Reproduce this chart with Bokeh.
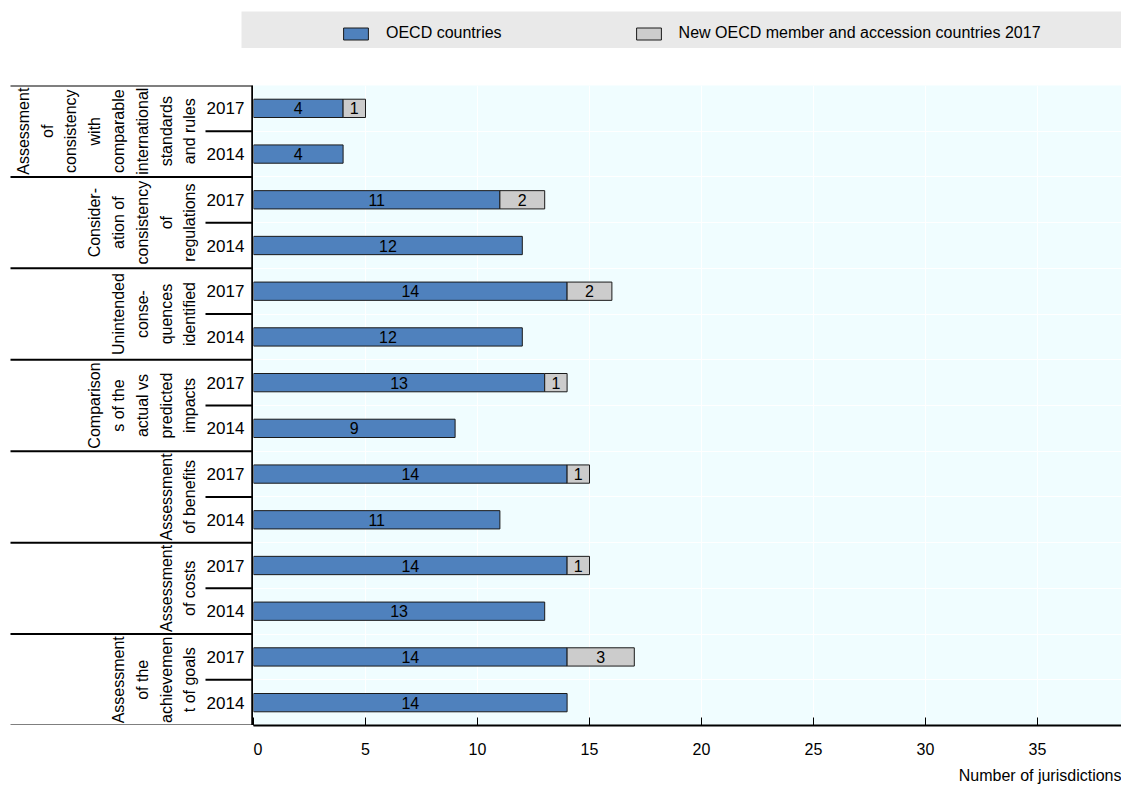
import numpy as np
from bokeh.plotting import figure
from bokeh.models import (ColumnDataSource, Range1d, FixedTicker, Title, Legend,
                          LegendItem, Spacer)
from bokeh.layouts import column, row
from bokeh.embed import file_html
from bokeh.resources import INLINE
from bokeh.core.properties import value

# ---------------- data (top group first) ----------------
groups = [
    "Assessment\nof\nconsistency\nwith\ncomparable\ninternational\nstandards\nand rules",
    "Consider-\nation of\nconsistency\nof\nregulations",
    "Unintended\nconse-\nquences\nidentified",
    "Comparison\ns of the\nactual vs\npredicted\nimpacts",
    "Assessment\nof benefits",
    "Assessment\nof costs",
    "Assessment\nof the\nachievemen\nt of goals",
]
years = ["2017", "2014"]
oecd_2017 = [4, 11, 14, 13, 14, 14, 14]
new_2017 = [1, 2, 2, 1, 1, 1, 3]
oecd_2014 = [4, 12, 12, 9, 11, 13, 14]
new_2014 = [0, 0, 0, 0, 0, 0, 0]
x_ticks = [0, 5, 10, 15, 20, 25, 30, 35]
series_names = ["OECD countries", "New OECD member and accession countries 2017"]
x_title = "Number of jurisdictions"

FONT = "Liberation Sans"
FS = "16px"
BLUE = "#4f81bd"
GREY = "#cccccc"
BG = "#f0fdff"

n_groups = len(groups)
n_rows = n_groups * 2

# ---------------- build row table ----------------
ys, oecd, new, yr_lbl = [], [], [], []
for g in range(n_groups):
    top = n_rows - 2 * g
    for k, (o, nw) in enumerate([(oecd_2017[g], new_2017[g]), (oecd_2014[g], new_2014[g])]):
        ys.append(top - 0.5 - k)
        oecd.append(o)
        new.append(nw)
        yr_lbl.append(years[k])

oecd = np.array(oecd, dtype=float)
new = np.array(new, dtype=float)
ys = np.array(ys, dtype=float)

src_o = ColumnDataSource(dict(y=ys, right=oecd, mid=oecd / 2, lbl=[str(int(v)) for v in oecd]))
mask = new > 0
src_n = ColumnDataSource(dict(y=ys[mask], left=oecd[mask], right=(oecd + new)[mask],
                              mid=(oecd + new / 2)[mask], lbl=[str(int(v)) for v in new[mask]]))

y_range = Range1d(0, n_rows)
FRAME_H = 640

# ---------------- main chart ----------------
p = figure(frame_width=868, frame_height=FRAME_H, x_range=Range1d(0, 38.75), y_range=y_range,
           output_backend="svg", toolbar_location=None, y_axis_location=None,
           min_border_left=0, min_border_right=0, min_border_top=0, min_border_bottom=0,
           background_fill_color=BG, outline_line_color=None)
p.xgrid.ticker = FixedTicker(ticks=x_ticks)
p.xgrid.grid_line_color = "white"
p.xgrid.grid_line_width = 1
p.ygrid.ticker = FixedTicker(ticks=list(range(n_rows + 1)))
p.ygrid.grid_line_color = "white"
p.ygrid.grid_line_width = 1

ax = p.xaxis[0]
ax.ticker = FixedTicker(ticks=x_ticks)
ax.major_tick_in = 8
ax.major_tick_out = 0
ax.minor_tick_line_color = None
ax.axis_line_width = 2
ax.axis_line_color = "black"
ax.major_tick_line_color = "black"
ax.major_tick_line_width = 1
ax.major_label_text_font = FONT
ax.major_label_text_font_size = FS
ax.major_label_text_color = "black"
ax.major_label_standoff = 17

p.add_layout(Title(text=x_title, align="right", text_font=FONT, text_font_size=FS,
                   text_font_style="normal", text_color="black", standoff=14), "below")

p.hbar(y="y", left=0, right="right", height=0.4, source=src_o,
       fill_color=BLUE, line_color="#1a1a1a", line_width=1)
p.hbar(y="y", left="left", right="right", height=0.4, source=src_n,
       fill_color=GREY, line_color="#1a1a1a", line_width=1)
for s in (src_o, src_n):
    p.text(x="mid", y="y", text="lbl", source=s, text_align="center", text_baseline="middle",
           text_font=value(FONT), text_font_size=FS, text_color="black")

# ---------------- left label panel ----------------
LEFT_W = 253
lf = figure(frame_width=LEFT_W, frame_height=FRAME_H, x_range=Range1d(0, LEFT_W), y_range=y_range,
            output_backend="svg", toolbar_location=None, x_axis_location=None,
            y_axis_location=None, min_border_left=0, min_border_right=0, min_border_top=0,
            min_border_bottom=0, outline_line_color=None, background_fill_color="white")
lf.xgrid.grid_line_color = None
lf.ygrid.grid_line_color = None

gb = [float(2 * g) for g in range(n_groups + 1)]
lf.segment(x0=[10] * len(gb), y0=gb, x1=[LEFT_W] * len(gb), y1=gb, line_color="black", line_width=2)
sb = [float(2 * g + 1) for g in range(n_groups)]
lf.segment(x0=[205] * len(sb), y0=sb, x1=[LEFT_W] * len(sb), y1=sb, line_color="black", line_width=2)
lf.segment(x0=[LEFT_W - 1], y0=[0], x1=[LEFT_W - 1], y1=[n_rows], line_color="black", line_width=2.5)

lf.text(x=[225] * len(ys), y=list(ys), text=yr_lbl, text_align="center", text_baseline="middle",
        text_font=value(FONT), text_font_size="17px", text_color="black")

gc = [n_rows - 2 * g - 1.0 for g in range(n_groups)]
lf.text(x=[198] * n_groups, y=gc, text=groups, angle=np.pi / 2, text_align="center",
        text_baseline="bottom", text_font=value(FONT), text_font_size=FS,
        text_color="black", text_line_height=1.4)

# ---------------- legend strip ----------------
lg = figure(width=880, height=37, x_range=Range1d(0, 1), y_range=Range1d(0, 1),
            output_backend="svg", toolbar_location=None, x_axis_location=None,
            y_axis_location=None, min_border=0, background_fill_color="#e9e9e9",
            border_fill_color="#e9e9e9", outline_line_color=None)
lg.xgrid.grid_line_color = None
lg.ygrid.grid_line_color = None
r1 = lg.hbar(y=[-5], left=[0], right=[1], height=0.5, fill_color=BLUE, line_color="#1a1a1a")
r2 = lg.hbar(y=[-5], left=[0], right=[1], height=0.5, fill_color=GREY, line_color="#1a1a1a")
legend = Legend(items=[LegendItem(label=series_names[0], renderers=[r1]),
                       LegendItem(label=series_names[1], renderers=[r2])],
                orientation="horizontal", location=(99, 6), glyph_width=31, glyph_height=15,
                label_standoff=15, spacing=131, padding=0, margin=0,
                background_fill_alpha=0, border_line_alpha=0,
                label_text_font=FONT, label_text_font_size=FS, label_text_color="black")
lg.add_layout(legend, "center")

layout = column(Spacer(height=11),
                row(Spacer(width=241), lg),
                Spacer(height=37),
                row(lf, p))

open("out.html", "w").write(file_html(layout, INLINE))
